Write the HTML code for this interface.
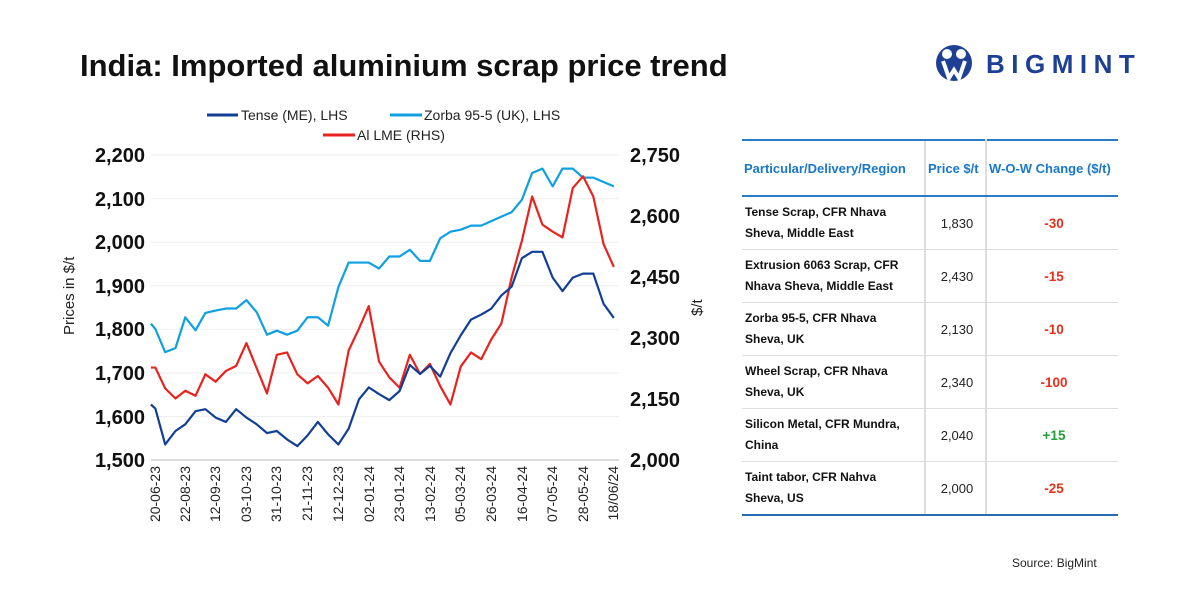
<!DOCTYPE html>
<html><head><meta charset="utf-8"><style>
body{margin:0;width:1200px;height:600px;background:#fff;font-family:"Liberation Sans",sans-serif;position:relative;overflow:hidden}
.t{position:absolute;white-space:nowrap}
table{position:absolute;left:742px;top:139px;width:376px;border-collapse:collapse;font-size:12px}
td{border-bottom:1.5px solid #ddd;height:52px;padding:0 0 0 3px}
td.p{border-left:2px solid #ddd;border-right:2px solid #ddd;text-align:center;color:#222;font-size:13px}
td.c{text-align:center;font-weight:bold;font-size:13.5px;color:#e8301c}
td.n{font-weight:bold;color:#111;line-height:21px}
th{color:#1a78c8;font-size:13px;font-weight:bold;height:52px;border-top:2px solid #2a7ac4;border-bottom:2px solid #2a7ac4;text-align:left;padding-left:2px}
tr:last-child td{border-bottom:2px solid #2a6ab0}
</style></head><body>
<div class="t" style="left:80px;top:48px;font-size:31px;font-weight:bold;color:#111;letter-spacing:0px">India: Imported aluminium scrap price trend</div>
<svg class="t" style="left:934px;top:42px" width="50" height="44" viewBox="0 0 50 44">
<circle cx="20" cy="21" r="18" fill="#1d3f94"/>
<circle cx="13" cy="12" r="5" fill="#fff"/><circle cx="27" cy="12" r="5" fill="#fff"/>
<path d="M9 19 L15 36 L20 28 L25 36 L31 19" stroke="#fff" stroke-width="4" fill="none"/>
</svg>
<div class="t" style="left:986px;top:49px;font-size:26px;font-weight:bold;color:#1d3f94;letter-spacing:6.5px">BIGMINT</div>
<svg class="t" style="left:0;top:0" width="720" height="560">
<g stroke="#eee" stroke-width="1">
<line x1="151" x2="619" y1="155" y2="155"/><line x1="151" x2="619" y1="198.6" y2="198.6"/><line x1="151" x2="619" y1="242.2" y2="242.2"/><line x1="151" x2="619" y1="285.8" y2="285.8"/><line x1="151" x2="619" y1="329.4" y2="329.4"/><line x1="151" x2="619" y1="373" y2="373"/><line x1="151" x2="619" y1="416.6" y2="416.6"/>
</g>
<line x1="151" x2="619" y1="460" y2="460" stroke="#bbb"/>
<g font-size="20" font-weight="bold" fill="#111" text-anchor="end">
<text x="145" y="162">2,200</text><text x="145" y="206">2,100</text><text x="145" y="249">2,000</text><text x="145" y="293">1,900</text><text x="145" y="336">1,800</text><text x="145" y="380">1,700</text><text x="145" y="424">1,600</text><text x="145" y="467">1,500</text>
</g>
<g font-size="20" font-weight="bold" fill="#111">
<text x="630" y="162">2,750</text><text x="630" y="223">2,600</text><text x="630" y="284">2,450</text><text x="630" y="345">2,300</text><text x="630" y="406">2,150</text><text x="630" y="467">2,000</text>
</g>
<text transform="translate(74,335) rotate(-90)" font-size="15" fill="#222">Prices in $/t</text>
<text transform="translate(702,316) rotate(-90)" font-size="15" fill="#222">$/t</text>
<g font-size="14" fill="#222" text-anchor="end">
<text transform="translate(160,466) rotate(-90)">20-06-23</text>
<text transform="translate(190,466) rotate(-90)">22-08-23</text>
<text transform="translate(220,466) rotate(-90)">12-09-23</text>
<text transform="translate(251,466) rotate(-90)">03-10-23</text>
<text transform="translate(281,466) rotate(-90)">31-10-23</text>
<text transform="translate(312,466) rotate(-90)">21-11-23</text>
<text transform="translate(343,466) rotate(-90)">12-12-23</text>
<text transform="translate(374,466) rotate(-90)">02-01-24</text>
<text transform="translate(404,466) rotate(-90)">23-01-24</text>
<text transform="translate(435,466) rotate(-90)">13-02-24</text>
<text transform="translate(465,466) rotate(-90)">05-03-24</text>
<text transform="translate(496,466) rotate(-90)">26-03-24</text>
<text transform="translate(527,466) rotate(-90)">16-04-24</text>
<text transform="translate(557,466) rotate(-90)">07-05-24</text>
<text transform="translate(588,466) rotate(-90)">28-05-24</text>
<text transform="translate(618,466) rotate(-90)">18/06/24</text>
</g>
<g transform="translate(0,130) scale(0.44643,0.33557)" fill="none" stroke-width="2.2" stroke-linejoin="round">
<polyline vector-effect="non-scaling-stroke" stroke="#0ea0e0" points="338,577 348,593 370,662 393,650 415,558 438,597 460,545 483,538 506,532 529,532 552,507 575,543 598,610 620,598 643,610 666,598 689,558 712,558 735,583 758,468 781,395 804,395 826,395 849,413 872,377 895,377 918,357 941,390 963,390 986,323 1009,303 1032,297 1055,285 1078,285 1100,272 1123,258 1146,245 1169,208 1192,128 1215,115 1238,168 1260,115 1283,115 1306,142 1329,142 1352,155 1375,168"/>
<polyline vector-effect="non-scaling-stroke" stroke="#e8231e" points="338,708 348,708 370,770 393,800 415,777 438,792 460,728 483,750 506,718 529,703 552,635 575,710 598,785 620,670 643,663 666,728 689,755 712,733 735,768 758,818 781,657 804,592 826,525 849,690 872,737 895,768 918,670 941,727 963,697 986,763 1009,818 1032,705 1055,663 1078,683 1100,625 1123,577 1146,440 1169,330 1192,198 1215,282 1238,303 1260,320 1283,173 1306,138 1329,198 1352,340 1375,408"/>
<polyline vector-effect="non-scaling-stroke" stroke="#123f96" points="338,818 348,830 370,937 393,897 415,877 438,838 460,832 483,857 506,870 529,832 552,857 575,877 598,903 620,897 643,922 666,942 689,910 712,870 735,907 758,937 781,890 804,803 826,767 849,787 872,805 895,778 918,700 941,727 963,703 986,735 1009,665 1032,612 1055,565 1078,550 1100,533 1123,493 1146,467 1169,382 1192,363 1215,363 1238,440 1260,480 1283,440 1306,428 1329,428 1352,518 1375,560"/>
</g>
<g font-size="14" fill="#222">
<line x1="207" x2="238" y1="115" y2="115" stroke="#123f96" stroke-width="3"/><text x="241" y="120">Tense (ME), LHS</text>
<line x1="390" x2="422" y1="115" y2="115" stroke="#0ea0e0" stroke-width="3"/><text x="424" y="120">Zorba 95-5 (UK), LHS</text>
<line x1="323" x2="355" y1="135" y2="135" stroke="#e8231e" stroke-width="3"/><text x="357" y="140">Al LME (RHS)</text>
</g>
</svg>
<table>
<tr><th style="width:179px">Particular/Delivery/Region</th><th style="width:56px;border-left:2px solid #ddd;border-right:2px solid #ddd">Price $/t</th><th>W-O-W Change ($/t)</th></tr>
<tr><td class="n">Tense Scrap, CFR Nhava<br>Sheva, Middle East</td><td class="p">1,830</td><td class="c">-30</td></tr>
<tr><td class="n">Extrusion 6063 Scrap, CFR<br>Nhava Sheva, Middle East</td><td class="p">2,430</td><td class="c">-15</td></tr>
<tr><td class="n">Zorba 95-5, CFR Nhava<br>Sheva, UK</td><td class="p">2,130</td><td class="c">-10</td></tr>
<tr><td class="n">Wheel Scrap, CFR Nhava<br>Sheva, UK</td><td class="p">2,340</td><td class="c">-100</td></tr>
<tr><td class="n">Silicon Metal, CFR Mundra,<br>China</td><td class="p">2,040</td><td class="c" style="color:#22a03a">+15</td></tr>
<tr><td class="n">Taint tabor, CFR Nahva<br>Sheva, US</td><td class="p">2,000</td><td class="c">-25</td></tr>
</table>
<div class="t" style="left:1012px;top:556px;font-size:12px;color:#222">Source: BigMint</div>
</body></html>
